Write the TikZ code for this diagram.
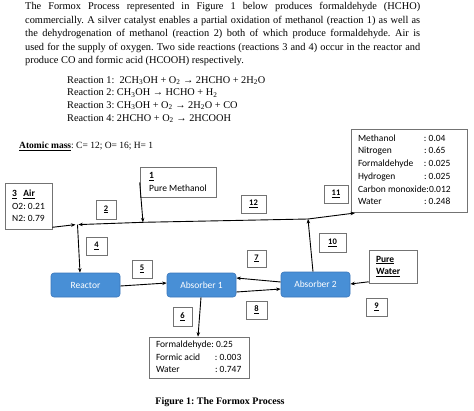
\documentclass[tikz,border=0pt]{standalone}
\usepackage{fontspec}
\setmainfont{Liberation Serif}
\newfontfamily\calfont{Carlito}
\usetikzlibrary{arrows.meta}
\definecolor{unitblue}{RGB}{72,143,214}
\definecolor{unitedge}{RGB}{58,118,186}
\hyphenpenalty=10000
\exhyphenpenalty=10000
\frenchspacing
\begin{document}
\begin{tikzpicture}[x=1pt,y=-1pt,
  numbox/.style={draw=black!55,line width=0.6pt,inner sep=0pt,minimum height=18pt,font=\calfont\bfseries\fontsize{8.5}{10}\selectfont},
  txtbox/.style={draw=black!55,line width=0.6pt,inner sep=0pt,align=left,font=\calfont\fontsize{9.5}{12.7}\selectfont},
  unit/.style={draw=unitedge,fill=unitblue,rounded corners=3pt,line width=0.6pt,text=white,inner sep=0pt,font=\calfont\fontsize{9.5}{11}\selectfont},
  flow/.style={line width=0.9pt,-{Stealth[length=4.5pt,width=3.5pt]}},
  plain/.style={line width=0.9pt}]
\useasboundingbox (0,0) rectangle (474,410);

% paragraph
\node[anchor=north west,text width=395pt,align=justify,inner sep=0pt,font=\fontsize{10.35}{13.6}\selectfont\frenchspacing] (para) at (25,2)
{The Formox Process represented in Figure 1 below produces formaldehyde (HCHO)\linebreak commercially. A silver catalyst enables a partial oxidation of methanol (reaction 1) as well as\linebreak the dehydrogenation of methanol (reaction 2) both of which produce formaldehyde. Air is\linebreak used for the supply of oxygen. Two side reactions (reactions 3 and 4) occur in the reactor and\linebreak produce CO and formic acid (HCOOH) respectively.};

\node[anchor=north west,align=left,inner sep=0pt,font=\fontsize{10.3}{12.7}\selectfont] (reac) at (67,76)
{Reaction 1:\ \ 2CH\textsubscript{3}OH + O\textsubscript{2} → 2HCHO + 2H\textsubscript{2}O\\
Reaction 2: CH\textsubscript{3}OH → HCHO + H\textsubscript{2}\\
Reaction 3: CH\textsubscript{3}OH + O\textsubscript{2} → 2H\textsubscript{2}O + CO\\
Reaction 4: 2HCHO + O\textsubscript{2} → 2HCOOH};

\node[anchor=west,inner sep=0pt,font=\fontsize{9.5}{11}\selectfont] (atom) at (19,146)
{\textbf{\underline{Atomic mass}}: C= 12; O= 16; H= 1};

% text boxes
\node[txtbox,minimum width=76pt,minimum height=30pt] (meth) at (178,182)
{\textbf{\underline{1}}\\Pure Methanol};
\node[txtbox,minimum width=47pt,minimum height=46pt] (air) at (28.5,206)
{\textbf{\underline{3}}\ \ \ \textbf{\underline{Air}}\\O2: 0.21\\N2: 0.79};
\node[txtbox,minimum width=116pt,minimum height=83pt] (comp) at (409,170.5)
{\begin{tabular}{@{}p{66pt}@{}p{36pt}@{}}
Methanol & : 0.04\\
Nitrogen & : 0.65\\
Formaldehyde & : 0.025\\
Hydrogen & : 0.025\\
\multicolumn{2}{@{}l@{}}{Carbon monoxide:0.012}\\
Water & : 0.248
\end{tabular}};
\node[txtbox,minimum width=48pt,minimum height=33pt,text width=34pt] (water) at (393,266.5)
{\textbf{\underline{Pure}}\\\textbf{\underline{Water}}};
\node[txtbox,minimum width=100pt,minimum height=41pt] (liq) at (199,357.5)
{\begin{tabular}{@{}p{59pt}@{}p{27pt}@{}}
\multicolumn{2}{@{}l@{}}{Formaldehyde: 0.25}\\
Formic acid & : 0.003\\
Water & : 0.747
\end{tabular}};

% units
\node[unit,minimum width=69pt,minimum height=24pt] (reactor) at (85.5,285) {Reactor};
\node[unit,minimum width=69pt,minimum height=24pt] (abs1) at (201.5,285) {Absorber 1};
\node[unit,minimum width=69pt,minimum height=25pt] (abs2) at (315.5,284.5) {Absorber 2};

% stream numbers
\node[numbox,minimum width=20pt,minimum height=19pt] (n2) at (106,209.5) {\underline{2}};
\node[numbox,minimum width=21pt] (n4) at (96.5,246) {\underline{4}};
\node[numbox,minimum width=20pt] (n5) at (142,269) {\underline{5}};
\node[numbox,minimum width=19pt,minimum height=19pt] (n6) at (182.5,316.5) {\underline{6}};
\node[numbox,minimum width=19pt,minimum height=17pt] (n7) at (256.5,258.5) {\underline{7}};
\node[numbox,minimum width=21pt] (n8) at (256.5,310) {\underline{8}};
\node[numbox,minimum width=21pt] (n9) at (376.5,307) {\underline{9}};
\node[numbox,minimum width=27pt,minimum height=19pt] (n10) at (332.5,242.5) {\underline{10}};
\node[numbox,minimum width=24pt] (n11) at (336,194) {\underline{11}};
\node[numbox,minimum width=25pt] (n12) at (253.5,204) {\underline{12}};

% junctions
\coordinate (J1) at (77.5,224.6);
\coordinate (JM) at (143,222.3);
\coordinate (J10) at (308,219);
\coordinate (E11) at (355,213);

% connectors
\draw[flow] ([yshift=2pt]air.south east) -- ([xshift=-2pt]J1);
\draw[flow] (JM) -- ([xshift=0.8pt]J1);
\draw[plain] (J10) -- (JM);
\draw[flow] (J10) -- (E11);
\draw[flow] ([yshift=15pt]meth.south west) -- (JM);
\draw[flow] (J1) -- ([xshift=-5.5pt]reactor.north);
\draw[flow] ([yshift=-1pt]reactor.east) -- ([yshift=2pt]abs1.west);
\draw[flow] ([yshift=2.5pt]abs2.west) -- ([yshift=7pt]abs1.east);
\draw[flow] ([yshift=-7pt]abs1.east) -- ([yshift=-4.5pt]abs2.west);
\draw[flow] ([xshift=-0.5pt]abs1.south) -- ([xshift=-1pt]liq.north);
\draw[flow] ([xshift=-2.5pt]abs2.north) -- (J10);
\draw[flow] ([yshift=1.5pt]water.south west) -- ([yshift=0.5pt]abs2.east);

% caption
\node[inner sep=0pt,font=\bfseries\fontsize{10}{12}\selectfont] (cap) at (220,402) {Figure 1: The Formox Process};
\end{tikzpicture}
\end{document}
